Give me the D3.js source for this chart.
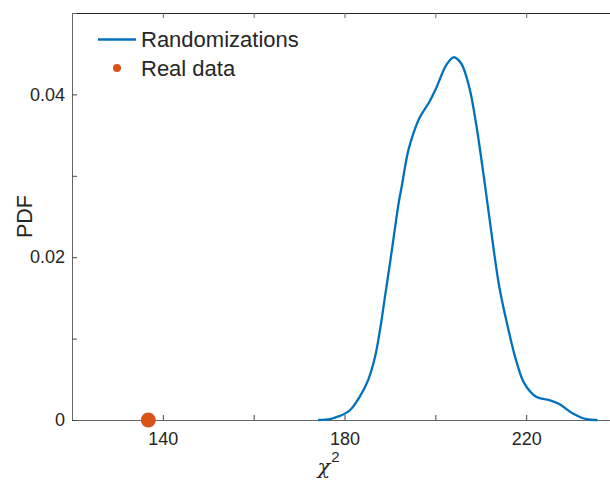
<!DOCTYPE html>
<html>
<head>
<meta charset="utf-8">
<script src="https://cdn.jsdelivr.net/npm/d3@7"></script>
<style>
  body { margin: 0; background: #fff; }
  text { font-family: "Liberation Sans", Arial, Helvetica, sans-serif; fill: #262626; }
</style>
</head>
<body>
<div id="plot"></div>
<script>
const width = 610
const height = 481
const margin = ({top: 13, right: -7, bottom: 61, left: 72})

// randomization PDF
const chi2 = [174.2, 176.8, 179.0, 181.2, 183.4, 185.2, 186.7, 187.8, 188.9, 190.0, 191.4, 192.0, 192.7, 193.3, 194.0,
  195.1, 196.5, 198.7, 200.2, 202.4, 204.0, 205.7, 207.5, 209.0, 210.8, 212.3, 214.1, 216.3, 217.8, 219.6,
  222.2, 225.1, 227.3, 230.2, 233.2, 235.7]
const pdf = [0, 0.00012, 0.0005, 0.0012, 0.0029, 0.0049, 0.0077, 0.0110, 0.0151, 0.0192, 0.0247, 0.0269, 0.0290, 0.0310, 0.0330,
  0.0351, 0.0371, 0.0391, 0.0408, 0.0436, 0.04456, 0.0438, 0.0408, 0.0363, 0.0294, 0.0232, 0.0163, 0.0106, 0.0073, 0.0045,
  0.00285, 0.00245, 0.00196, 0.00082, 0.0001, 0]

const realChi2 = 136.8
const realPdf = 0

const xTicks = [140, 160, 180, 200, 220]
const xLabels = [140, 180, 220]
const yTicks = [0, 0.01, 0.02, 0.03, 0.04]
const yLabels = [0, 0.02, 0.04]

const x = d3.scaleLinear()
  .domain([120, 240])
  .range([margin.left, width - margin.right])

const y = d3.scaleLinear()
  .domain([0, 0.05])
  .range([height - margin.bottom, margin.top])

const svg = d3.select("#plot")
  .append("svg")
  .attr("width", width)
  .attr("height", height)

const fmt = d => d === 0 ? "0" : d3.format(".2f")(d)

// bottom axis, ticks pointing inward
svg.append("g")
  .attr("transform", `translate(0,${y(0)})`)
  .call(d3.axisBottom(x).tickValues(xTicks).tickSize(-5).tickPadding(12)
    .tickFormat(d => xLabels.includes(d) ? d : ""))
  .call(g => g.select(".domain").attr("stroke", "#666"))
  .call(g => g.selectAll(".tick line").attr("stroke", "#444"))
  .call(g => g.selectAll(".tick text").attr("font-size", 18).attr("fill", "#262626"))

// top edge of the box
svg.append("g")
  .attr("transform", `translate(0,${y(0.05)})`)
  .call(d3.axisTop(x).tickValues(xTicks).tickSize(-5).tickFormat(""))
  .call(g => g.select(".domain").attr("stroke", "#262626"))
  .call(g => g.selectAll(".tick line").attr("stroke", "#666"))

// left axis
svg.append("g")
  .attr("transform", `translate(${x(120)},0)`)
  .call(d3.axisLeft(y).tickValues(yTicks).tickSize(-5).tickPadding(7)
    .tickFormat(d => yLabels.includes(d) ? fmt(d) : ""))
  .call(g => g.select(".domain").attr("stroke", "#666"))
  .call(g => g.selectAll(".tick line").attr("stroke", "#444"))
  .call(g => g.selectAll(".tick text").attr("font-size", 18).attr("fill", "#262626"))

// density curve
const line = d3.line()
  .x((d, i) => x(chi2[i]))
  .y(d => y(d))
  .curve(d3.curveCatmullRom.alpha(0.5))

svg.append("path")
  .datum(pdf)
  .attr("fill", "none")
  .attr("stroke", "#0072BD")
  .attr("stroke-width", 2.3)
  .attr("d", line)

// real data point
svg.append("circle")
  .attr("cx", x(realChi2))
  .attr("cy", y(realPdf))
  .attr("r", 7.5)
  .attr("fill", "#D95319")

// axis labels
svg.append("text")
  .attr("transform", `translate(32,${y(0.025)}) rotate(-90)`)
  .attr("text-anchor", "middle")
  .attr("font-size", 21.5)
  .text("PDF")

const xl = svg.append("text")
  .attr("x", x(180) - 27)
  .attr("y", 474)
  .attr("font-size", 21)
xl.append("tspan").attr("font-family", "'DejaVu Serif', serif").attr("font-style", "italic").text("χ")
xl.append("tspan").attr("font-size", 15).attr("dy", -12).attr("dx", 1).text("2")

// legend
const legend = svg.append("g")
legend.append("line")
  .attr("x1", 98).attr("x2", 136)
  .attr("y1", 39.5).attr("y2", 39.5)
  .attr("stroke", "#0072BD")
  .attr("stroke-width", 2.3)
legend.append("text")
  .attr("x", 141).attr("y", 47)
  .attr("font-size", 22)
  .text("Randomizations")
legend.append("circle")
  .attr("cx", 117).attr("cy", 68)
  .attr("r", 4)
  .attr("fill", "#D95319")
legend.append("text")
  .attr("x", 141).attr("y", 75.5)
  .attr("font-size", 22)
  .text("Real data")
</script>
</body>
</html>
